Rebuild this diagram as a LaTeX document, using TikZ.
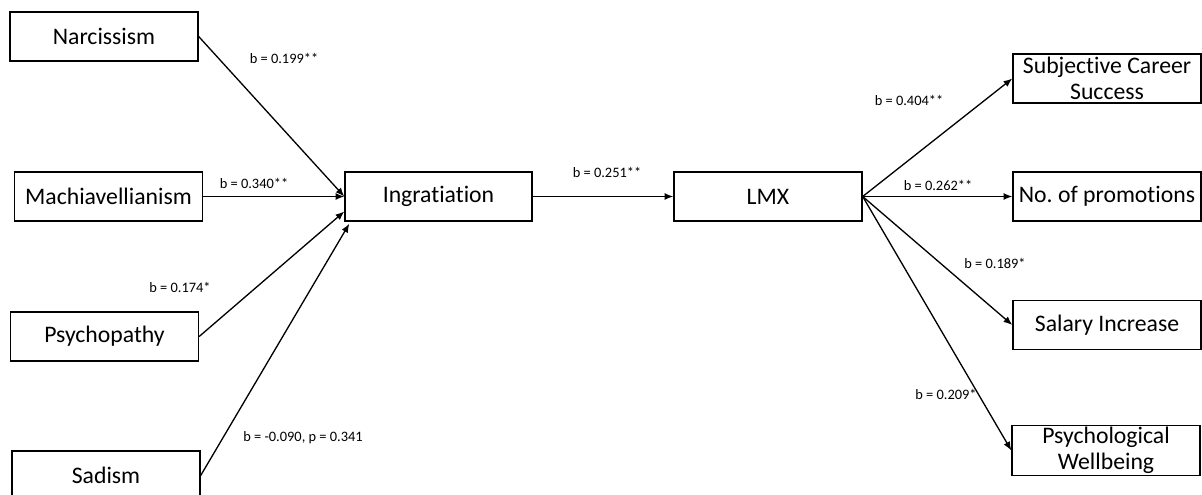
\documentclass[tikz,border=0pt]{standalone}
\usepackage{fontspec}
\setmainfont{Carlito}[Ligatures=NoCommon]
\frenchspacing
\usepackage{tikz}
\usetikzlibrary{arrows.meta, positioning, calc}

\begin{document}
\begin{tikzpicture}[
    x=0.02cm, y=-0.02cm,
    varbox/.style={draw, line width=0.8pt, minimum width=3.76cm, minimum height=0.98cm, align=center, inner sep=1pt, font=\fontsize{13.5}{15}\selectfont},
    coef/.style={font=\fontsize{8.2}{9}\selectfont, inner sep=1pt},
    path/.style={line width=0.75pt, -{Latex[length=5pt, width=4pt]}}
]
\useasboundingbox (0,0) rectangle (1202,494);

% Dark triad predictors (left column)
\node[varbox] (narc) at (104,36.5) {Narcissism};
\node[varbox] (mach) at (108.5,196.5) {Machiavellianism};
\node[varbox] (psyc) at (104.5,336.5) {Psychopathy};
\node[varbox] (sadi) at (106,475.5) {Sadism};

% Mediators
\node[varbox, minimum width=3.74cm] (ingr) at (438.5,196.5) {Ingratiation};
\node[varbox] (lmx) at (768,196.5) {LMX};

% Career outcomes (right column)
\node[varbox] (subj) at (1107,78.5) {Subjective Career\\Success};
\node[varbox] (prom) at (1107,196.5) {No. of promotions};
\node[varbox] (sala) at (1107,325) {Salary Increase};
\node[varbox] (well) at (1106,450.5) {Psychological\\Wellbeing};

% Paths into Ingratiation
\draw[path] (narc.east) -- (ingr.west);
\draw[path] (mach.east) -- (ingr.west);
\draw[path] (psyc.east) -- ([yshift=-0.3cm]ingr.west);
\draw[path] (sadi.east) -- ([xshift=0.1cm, yshift=-0.04cm]ingr.south west);

% Ingratiation to LMX
\draw[path] (ingr.east) -- (lmx.west);

% LMX to outcomes
\draw[path] (lmx.east) -- (subj.west);
\draw[path] (lmx.east) -- (prom.west);
\draw[path] (lmx.east) -- (sala.west);
\draw[path] (lmx.east) -- (well.west);

% Coefficients
\node[coef] (cnarc) at (284,58) {b = 0.199**};
\node[coef] (cmach) at (254,183) {b = 0.340**};
\node[coef] (cpsyc) at (180,287) {b = 0.174*};
\node[coef] (csadi) at (303,438) {b = -0.090, p = 0.341};
\node[coef] (cingr) at (607,172) {b = 0.251**};
\node[coef] (csubj) at (909,100) {b = 0.404**};
\node[coef] (cprom) at (938,185) {b = 0.262**};
\node[coef] (csala) at (995,263) {b = 0.189*};
\node[coef] (cwell) at (946,394) {b = 0.209*};

\end{tikzpicture}
\end{document}
